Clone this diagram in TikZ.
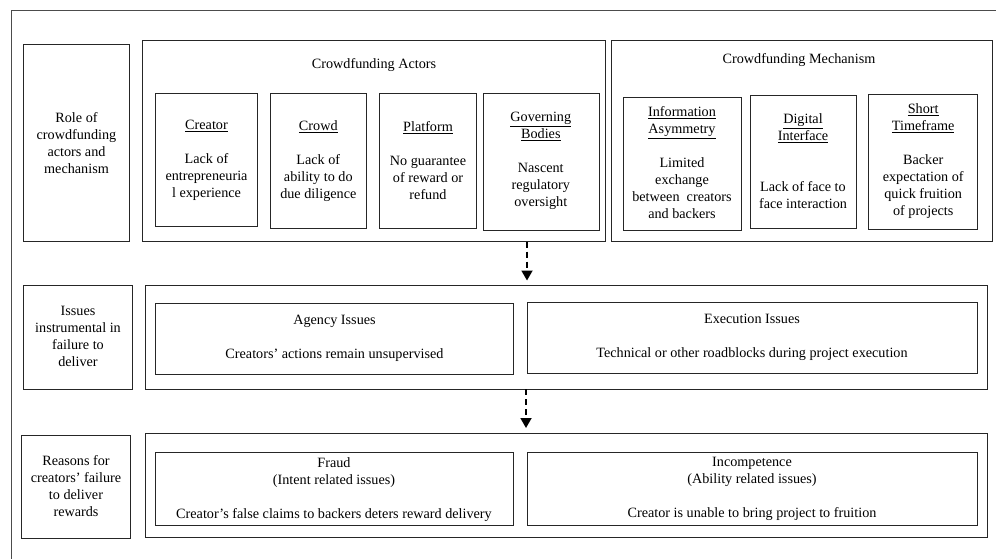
\documentclass[tikz,border=0pt]{standalone}
\usepackage{fontspec}
\setmainfont{Liberation Serif}
\usetikzlibrary{arrows.meta,fit}
\begin{document}
\begin{tikzpicture}[x=1pt,y=-1pt,
  box/.style={draw=black!85, line width=0.8pt, inner sep=0pt},
  txt/.style={align=center, inner sep=0pt, font=\fontsize{14.2}{17}\selectfont},
  flow/.style={dash pattern=on 6pt off 4pt, line width=1.8pt, -{Triangle[width=11pt,length=10pt]}}
]
\useasboundingbox (0,0) rectangle (996,559);
\draw[black!70, line width=0.8pt] (11,559) -- (11,10) -- (996,10);

% ---------- Row 1 ----------
\node[box, fit={(23.5,44) (129.5,241)}] (role) {};
\node[txt] (roleT) at (76.5,142.7) {Role of\\crowdfunding\\actors and\\mechanism};

\node[box, fit={(142,40.3) (605,241.3)}] (actors) {};
\node[txt] (actorsT) at (374,65) {Crowdfunding Actors};

\node[box, fit={(155.7,93.7) (257.3,226)}] (creator) {};
\node[txt] (creatorT) at (206.5,160.3) {\underline{Creator}\\[17pt]Lack of\\entrepreneuria\\l experience};

\node[box, fit={(270,93.7) (366.7,228.3)}] (crowd) {};
\node[txt] (crowdT) at (318.3,160.8) {\underline{Crowd}\\[17pt]Lack of\\ability to do\\due diligence};

\node[box, fit={(379.7,93.7) (476.3,228.3)}] (platform) {};
\node[txt] (platformT) at (428,160.8) {\underline{Platform}\\[17pt]No guarantee\\of reward or\\refund};

\node[box, fit={(483.3,93.7) (599.3,230)}] (gov) {};
\node[txt] (govT) at (540.8,161.2) {\underline{Governing}\\\underline{Bodies}\\[17pt]Nascent\\regulatory\\oversight};

\node[box, fit={(611,40.3) (992.7,241.3)}] (mech) {};
\node[txt] (mechT) at (799,60) {Crowdfunding Mechanism};

\node[box, fit={(623.3,97.7) (741.3,230)}] (info) {};
\node[txt] (infoT) at (682,163) {\underline{Information}\\\underline{Asymmetry}\\[17pt]Limited\\exchange\\between~ creators\\and backers};

\node[box, fit={(750.3,95.7) (856,228.3)}] (digital) {};
\node[txt] (digitalT) at (803,161.2) {\underline{Digital}\\\underline{Interface}\\[34pt]Lack of face to\\face interaction};

\node[box, fit={(868.7,94.3) (977.7,229.3)}] (short) {};
\node[txt] (shortT) at (923.2,161) {\underline{Short}\\\underline{Timeframe}\\[17pt]Backer\\expectation of\\quick fruition\\of projects};

% ---------- Row 2 ----------
\node[box, fit={(23.3,285) (132.7,389)}] (issuesL) {};
\node[txt] (issuesLT) at (78,336.7) {Issues\\instrumental in\\failure to\\deliver};

\node[box, fit={(145.3,285) (987,389)}] (issues) {};
\node[box, fit={(155.7,303.3) (513.3,374.3)}] (agency) {};
\node[txt] (agencyT) at (334.5,338.8) {Agency Issues\\[17pt]Creators’ actions remain unsupervised};
\node[box, fit={(527,302) (977.7,373.7)}] (exec) {};
\node[txt] (execT) at (752,337.5) {Execution Issues\\[17pt]Technical or other roadblocks during project execution};

% ---------- Row 3 ----------
\node[box, fit={(21.7,435) (130.7,538.3)}] (reasonsL) {};
\node[txt] (reasonsLT) at (76,486.3) {Reasons for\\creators’ failure\\to deliver\\rewards};

\node[box, fit={(145.3,433.7) (987,537.3)}] (reasons) {};
\node[box, fit={(155.7,452.3) (513.3,525.7)}] (fraud) {};
\node[txt] (fraudT) at (334,489.2) {Fraud\\(Intent related issues)\\[17pt]Creator’s false claims to backers deters reward delivery};
\node[box, fit={(527,452.3) (977.7,525.7)}] (incomp) {};
\node[txt] (incompT) at (752,489.2) {Incompetence\\(Ability related issues)\\[17pt]Creator is unable to bring project to fruition};

% ---------- Arrows ----------
\coordinate (tip1) at (527,280.5);
\coordinate (tip2) at (526,428);
\draw[flow] (actors.south -| tip1) -- (tip1);
\draw[flow] (issues.south -| tip2) -- (tip2);
\end{tikzpicture}
\end{document}
